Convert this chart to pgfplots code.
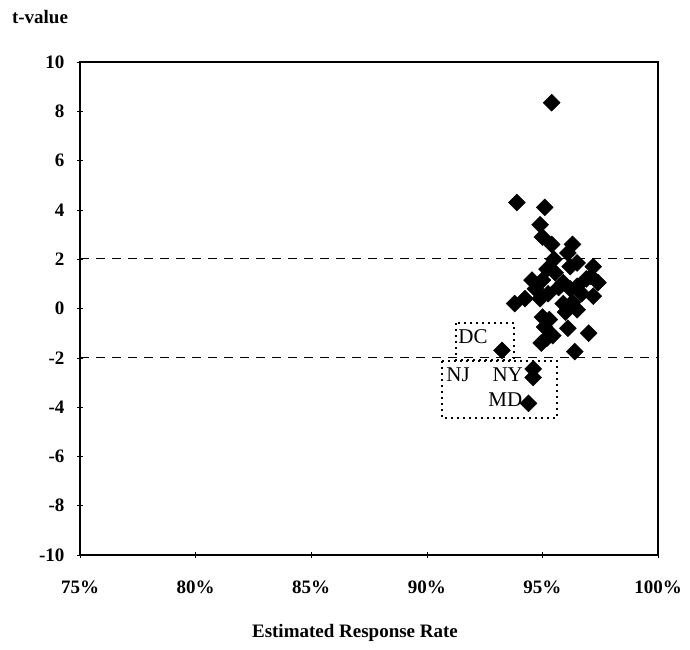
\documentclass[border=0pt]{standalone}
\usepackage{fontspec}
\setmainfont{Liberation Serif}
\usepackage{pgfplots}
\pgfplotsset{compat=1.18}
\begin{document}
\fontsize{19}{22}\selectfont
\begin{tikzpicture}
\useasboundingbox (-80pt,-94pt) rectangle (610pt,555pt);
\begin{axis}[
  at={(0pt,0pt)}, anchor=south west,
  scale only axis, width=578pt, height=493pt,
  xmin=75, xmax=100, ymin=-10, ymax=10,
  xtick={75,80,85,90,95,100},
  xticklabels={75\%,80\%,85\%,90\%,95\%,100\%},
  ytick={-10,-8,-6,-4,-2,0,2,4,6,8,10},
  yticklabels={-10,-8,-6,-4,-2,0,2,4,6,8,10},
  ticklabel style={font=\bfseries},
  axis line style={line width=2.8pt},
  tick style={black, line width=0.6pt},
  major tick length=6pt, tick align=center,
  xtick pos=bottom, ytick pos=left,
  xticklabel style={yshift=-16pt},
  yticklabel style={xshift=-6pt},
  clip=false,
]
\addplot[black, dash pattern=on 9pt off 7pt, line width=0.8pt] coordinates {(75,2.05) (100,2.05)};
\addplot[black, dash pattern=on 9pt off 7pt, line width=0.8pt] coordinates {(75,-2) (100,-2)};
\addplot[only marks, mark=square*, mark size=6pt, mark options={rotate=45, fill=black, draw=black}] coordinates {
(95.4,8.35) (93.9,4.3) (95.1,4.1) (94.9,3.4) (95.0,2.9) (95.4,2.6) (96.3,2.6)
(96.1,2.25) (96.5,1.85) (97.2,1.7) (97.4,1.05) (97.1,1.3) (94.55,1.15) (95.0,1.15)
(95.55,1.45) (95.9,1.05) (96.5,0.9) (97.2,0.5) (93.8,0.2) (94.25,0.4) (94.9,0.4)
(95.25,0.6) (95.9,0.2) (96.3,0.25) (96.0,-0.15) (96.5,-0.05) (95.0,-0.35) (95.1,-0.75)
(96.1,-0.8) (97.0,-1.0) (95.2,-1.2) (95.45,-1.1) (94.95,-1.4) (96.4,-1.75)
(93.25,-1.7) (94.6,-2.45) (94.6,-2.8) (94.4,-3.85)
(95.5,2.0) (95.7,0.85) (96.2,0.8) (96.7,0.6) (95.3,-0.45) (96.2,1.7) (95.2,1.6)
(94.7,0.8) (96.9,1.2)
};
\draw[dash pattern=on 2pt off 4pt, line width=2pt] (axis cs:91.26,-0.59) rectangle (axis cs:93.77,-2.09);
\draw[dash pattern=on 2pt off 4pt, line width=2pt] (axis cs:90.66,-2.13) rectangle (axis cs:95.63,-4.44);
\node[font=\fontsize{21}{24}\selectfont] at (axis cs:92.0,-1.16) {DC};
\node[font=\fontsize{21}{24}\selectfont] at (axis cs:91.35,-2.7) {NJ};
\node[font=\fontsize{21}{24}\selectfont] at (axis cs:93.5,-2.7) {NY};
\node[font=\fontsize{21}{24}\selectfont] at (axis cs:93.4,-3.7) {MD};
\end{axis}
\node[font=\bfseries] at (-40pt,538pt) {t-value};
\node[font=\bfseries] at (275pt,-78pt) {Estimated Response Rate};
\end{tikzpicture}
\end{document}
